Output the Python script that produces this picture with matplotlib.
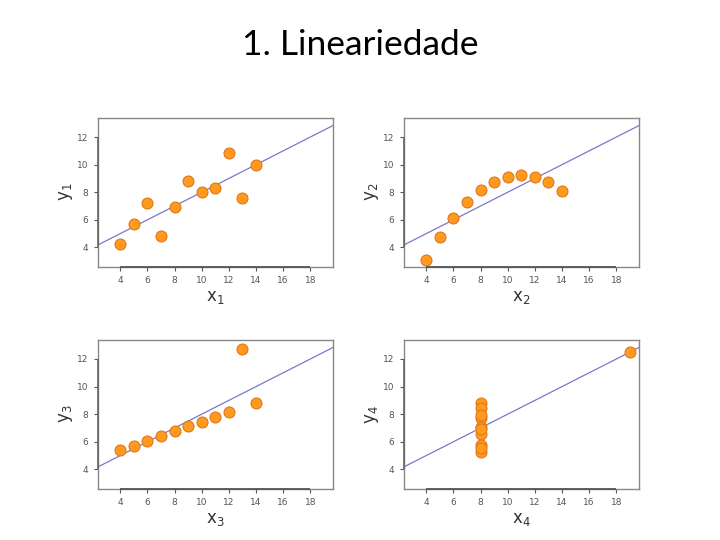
import matplotlib
matplotlib.use("Agg")
import matplotlib.pyplot as plt

title = "1. Lineariedade"
x123 = [10, 8, 13, 9, 11, 14, 6, 4, 12, 7, 5]
y1 = [8.04, 6.95, 7.58, 8.81, 8.33, 9.96, 7.24, 4.26, 10.84, 4.82, 5.68]
y2 = [9.14, 8.14, 8.74, 8.77, 9.26, 8.10, 6.13, 3.10, 9.13, 7.26, 4.74]
y3 = [7.46, 6.77, 12.74, 7.11, 7.81, 8.84, 6.08, 5.39, 8.15, 6.42, 5.73]
x4 = [8, 8, 8, 8, 8, 8, 8, 19, 8, 8, 8]
y4 = [6.58, 5.76, 7.71, 8.84, 8.47, 7.04, 5.25, 12.50, 5.56, 7.91, 6.89]
fit_intercept = 3.0
fit_slope = 0.5
xticks = [4, 6, 8, 10, 12, 14, 16, 18]
yticks = [4, 6, 8, 10, 12]
xlim = (2.36, 19.64)
ylim = (2.6, 13.4)

datasets = [(x123, y1, "1"), (x123, y2, "2"), (x123, y3, "3"), (x4, y4, "4")]

fig = plt.figure(figsize=(7.2, 5.4), dpi=100)
fig.patch.set_facecolor("white")
fig.text(0.5, 0.917, title, ha="center", va="center", fontsize=25.5,
         family="Lato", color="black")

lefts = [0.136, 0.561]
bottoms = [0.506, 0.095]
w, h = 0.326, 0.276

for i, (xs, ys, idx) in enumerate(datasets):
    r, c = divmod(i, 2)
    ax = fig.add_axes([lefts[c], bottoms[r], w, h])
    ax.set_xlim(*xlim)
    ax.set_ylim(*ylim)
    lx = list(xlim)
    ax.plot(lx, [fit_intercept + fit_slope * v for v in lx], color="#7a78c8",
            lw=0.9, zorder=2)
    ax.scatter(xs, ys, s=62, color="#ff9a1f", edgecolor="#e07818",
               linewidth=0.8, zorder=3)
    ax.set_xticks(xticks)
    ax.set_yticks(yticks)
    ax.tick_params(labelsize=6.5, colors="#555555", length=3, width=0.8,
                   direction="out", pad=4)
    for sp in ax.spines.values():
        sp.set_color("#888888")
        sp.set_linewidth(1.0)
    ax.hlines(ylim[0], xticks[0], xticks[-1], color="#555555", lw=1.3,
              clip_on=False, zorder=4)
    ax.vlines(xlim[0], yticks[0], yticks[-1], color="#666666", lw=1.2,
              clip_on=False, zorder=4)
    ax.set_xlabel(r"$\mathregular{x_{%s}}$" % idx, fontsize=12, color="#333333",
                  labelpad=2)
    ax.set_ylabel(r"$\mathregular{y_{%s}}$" % idx, fontsize=12, color="#333333",
                  labelpad=1)

fig.savefig("out.png", dpi=100, facecolor="white")
